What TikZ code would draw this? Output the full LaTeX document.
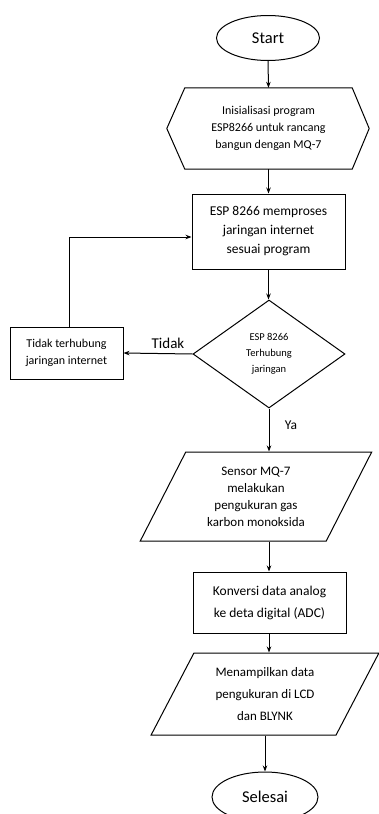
\documentclass[tikz,border=0pt]{standalone}
\usepackage{fontspec}
\setmainfont{Carlito}
\usetikzlibrary{shapes.geometric,arrows.meta,calc}
\tikzset{
  base/.style={draw=black,line width=1pt,inner sep=0pt,align=center,text=black},
  term/.style={base,ellipse},
  procbox/.style={base,rectangle},
  hexa/.style={rectangle,inner sep=0pt,align=center},
  decide/.style={base,diamond},
  io/.style={base,trapezium,trapezium stretches=true},
  conn/.style={draw=black,line width=1pt,-{Stealth[length=6pt,width=4.5pt]}},
  lbl/.style={inner sep=0pt,text=black}
}
\begin{document}
\begin{tikzpicture}[x=1pt,y=-1pt]
\useasboundingbox (0,0) rectangle (379,814);
\begin{scope}
\clip (0,0) rectangle (379,814);
% nodes
\node[term,minimum width=103pt,minimum height=45pt,font=\fontsize{16.5}{18}\selectfont] (start) at (268,38) {Start};
\node[hexa,minimum width=167pt,minimum height=81pt,font=\fontsize{12}{17}\selectfont] (init) at (268.5,128.5) {Inisialisasi program\\ESP8266 untuk rancang\\bangun dengan MQ-7};
\draw[line width=1pt] (init.north west) -- (init.north east) -- ([xshift=17pt]init.east) -- (init.south east) -- (init.south west) -- ([xshift=-18pt]init.west) -- cycle;
\node[procbox,minimum width=153pt,minimum height=75pt,font=\fontsize{13.5}{19}\selectfont] (proc) at (268.5,231.5) {ESP 8266 memproses\\jaringan internet\\sesuai program};
\node[decide,minimum width=152pt,minimum height=108pt,aspect=1.41,font=\fontsize{10.5}{16}\selectfont] (dec) at (269,354) {ESP 8266\\Terhubung\\jaringan};
\node[procbox,minimum width=113pt,minimum height=52pt,font=\fontsize{12}{17}\selectfont] (nocon) at (66.5,353) {Tidak terhubung\\jaringan internet};
\node[io,trapezium left angle=62,trapezium right angle=118,minimum width=232pt,minimum height=89pt,font=\fontsize{13}{17}\selectfont] (sensor) at (256,496.5) {Sensor MQ-7\\melakukan\\pengukuran gas\\karbon monoksida};
\node[procbox,minimum width=153pt,minimum height=61pt,font=\fontsize{13.5}{22}\selectfont] (adc) at (269.5,602.5) {Konversi data analog\\ke deta digital (ADC)};
\node[io,trapezium left angle=60.7,trapezium right angle=119.3,minimum width=228pt,minimum height=82pt,font=\fontsize{13}{22}\selectfont] (show) at (265,694) {Menampilkan data\\pengukuran di LCD\\dan BLYNK};
\node[term,minimum width=106pt,minimum height=50pt,font=\fontsize{16.5}{18}\selectfont] (end) at (265,797) {Selesai};
% labels
\node[lbl,font=\fontsize{15}{16}\selectfont] (ltidak) at (168,343) {Tidak};
\node[lbl,font=\fontsize{13.5}{15}\selectfont] (lya) at (291,425) {Ya};
% connectors
\coordinate (loopin) at ([yshift=-5.5pt]proc.west);
\draw[conn] (start.south) -- (init.north);
\draw[conn] (init.south) -- (init.south |- proc.north);
\draw[conn] (proc.south) -- (proc.south |- dec.north);
\draw[conn] (dec.west) -- (nocon.east);
\draw[conn] ([xshift=2.5pt]nocon.north) |- (loopin);
\draw[conn] (dec.south) -- (dec.south |- sensor.north);
\draw[conn] (sensor.south -| dec.south) -- (dec.south |- adc.north);
\draw[conn] (dec.south |- adc.south) -- (dec.south |- show.north);
\draw[conn] (show.south -| end.north) -- (end.north);
\end{scope}
\end{tikzpicture}
\end{document}
